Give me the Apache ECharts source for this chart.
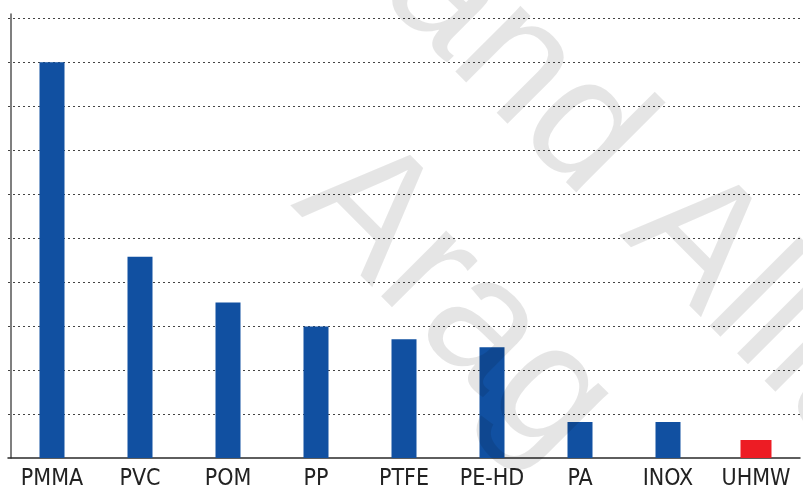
<!DOCTYPE html>
<html>
<head>
<meta charset="utf-8">
<script src="https://cdn.jsdelivr.net/npm/echarts@6/dist/echarts.min.js"></script>
<style>
html,body{margin:0;padding:0;background:#fff;}
#chart{width:803px;height:491px;}
</style>
</head>
<body>
<div id="chart"></div>
<script>
const categories = ['PMMA', 'PVC', 'POM', 'PP', 'PTFE', 'PE-HD', 'PA', 'INOX', 'UHMW'];
const blueValues = [9.0, 4.58, 3.54, 2.99, 2.70, 2.52, 0.82, 0.82, '-'];
const redValues = ['-', '-', '-', '-', '-', '-', '-', '-', 0.41];
const watermarkLine1 = 'and Allia';
const watermarkLine2 = 'Arag';

const chart = echarts.init(document.getElementById('chart'), null, {renderer: 'canvas'});
const labelFont = '"DejaVu Sans Condensed", "Liberation Sans", sans-serif';
const wmFont = '175px "Liberation Sans", sans-serif';
const rot = -Math.PI / 4;

chart.setOption({
  animation: false,
  backgroundColor: '#ffffff',
  grid: {left: 8, right: 3, top: 14, bottom: 32, containLabel: false},
  xAxis: [{
    type: 'category',
    data: categories,
    axisTick: {show: false},
    axisLine: {show: true, lineStyle: {color: '#2a2a2a', width: 1.5}},
    axisLabel: {interval: 0, margin: 10, color: '#222', fontSize: 23, fontFamily: labelFont},
    splitLine: {show: false}
  }, {
    type: 'category',
    data: categories,
    show: false
  }],
  yAxis: {
    type: 'value',
    min: 0,
    max: 10.1,
    interval: 1,
    offset: -3,
    axisLine: {show: true, lineStyle: {color: '#555', width: 1.5}},
    axisTick: {show: false},
    axisLabel: {show: false},
    splitLine: {show: true, showMinLine: false, showMaxLine: false, lineStyle: {color: '#444', width: 1, type: [2, 3]}}
  },
  series: [{
    type: 'bar',
    xAxisIndex: 0,
    data: blueValues,
    barWidth: 25,
    itemStyle: {color: '#1150a1'}
  }, {
    type: 'bar',
    xAxisIndex: 1,
    data: redValues,
    barWidth: 31,
    itemStyle: {color: '#ed1c24'}
  }],
  graphic: [{
    type: 'text',
    x: 412, y: -40,
    rotation: rot,
    z: 100,
    silent: true,
    style: {text: watermarkLine1, font: wmFont, fill: 'rgba(0,0,0,0.1)', align: 'left', verticalAlign: 'middle'}
  }, {
    type: 'text',
    x: 324, y: 171,
    rotation: rot,
    z: 100,
    silent: true,
    style: {text: watermarkLine2, font: wmFont, fill: 'rgba(0,0,0,0.1)', align: 'left', verticalAlign: 'middle'}
  }]
});
</script>
</body>
</html>
